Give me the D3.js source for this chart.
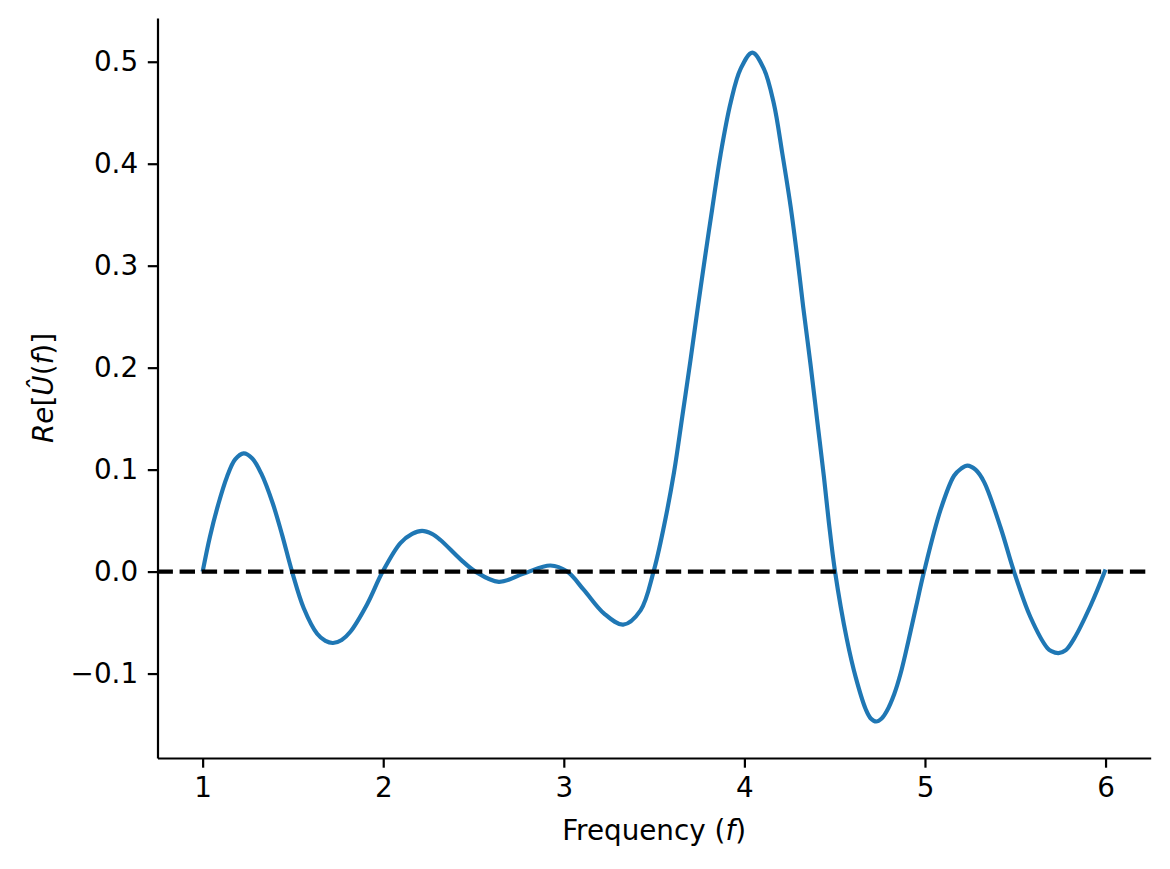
<!DOCTYPE html>
<html>
<head>
<meta charset="utf-8">
<script src="https://cdn.jsdelivr.net/npm/d3@7"></script>
<style>
  body { margin: 0; background: #fff; }
  svg { display: block; }
  text { font-family: "DejaVu Sans", sans-serif; }
</style>
</head>
<body>
<svg id="chart" width="1170" height="869"></svg>
<script>
// values (frequency, Re[U(f)])
let freqs = [
  1.000, 1.040, 1.085, 1.135, 1.180, 1.227, 1.275, 1.325, 1.388, 1.440, 1.495,
  1.560, 1.634, 1.680, 1.722, 1.770, 1.818, 1.911, 1.997,
  2.095, 2.160, 2.215, 2.270, 2.317, 2.428, 2.511, 2.640, 2.778, 2.926,
  3.019, 3.111, 3.222, 3.329, 3.425, 3.497,
  3.554, 3.610, 3.656, 3.702, 3.742, 3.785, 3.822, 3.868, 3.924, 3.979,
  4.044, 4.108, 4.163, 4.210, 4.256, 4.293, 4.326, 4.367, 4.404, 4.441,
  4.468, 4.502, 4.567, 4.617, 4.672, 4.700, 4.730, 4.760, 4.788, 4.830, 4.865, 4.907, 4.950, 4.995,
  5.087, 5.161, 5.200, 5.235, 5.280, 5.327, 5.419, 5.493,
  5.585, 5.678, 5.700, 5.739, 5.780, 5.825, 5.918, 6.000
];
let reU = [
  0.000, 0.034, 0.065, 0.093, 0.110, 0.116, 0.111, 0.096, 0.067, 0.036, 0.000,
  -0.036, -0.061, -0.068, -0.070, -0.067, -0.059, -0.032, 0.000,
  0.028, 0.037, 0.040, 0.037, 0.031, 0.012, 0.000, -0.010, -0.002, 0.006,
  0.000, -0.018, -0.041, -0.052, -0.038, 0.000,
  0.044, 0.097, 0.152, 0.208, 0.259, 0.312, 0.356, 0.409, 0.460, 0.493,
  0.509, 0.493, 0.459, 0.410, 0.358, 0.308, 0.259, 0.202, 0.147, 0.092,
  0.048, 0.000, -0.066, -0.104, -0.135, -0.144, -0.147, -0.144, -0.137, -0.120, -0.100, -0.069, -0.035, 0.000,
  0.061, 0.094, 0.101, 0.104, 0.100, 0.088, 0.043, 0.000,
  -0.045, -0.075, -0.078, -0.080, -0.077, -0.066, -0.033, 0.002
];
let xTicks = [1, 2, 3, 4, 5, 6];
let yTicks = [-0.1, 0.0, 0.1, 0.2, 0.3, 0.4, 0.5];

const fontPx = 27.8;
const tickLen = 9.7;
const plotLeft = 157.5, plotRight = 1150.7, plotTop = 18, plotBottom = 758;

let svg = d3.select("#chart");

let x = d3.scaleLinear().domain([0.75, 6.25]).range([plotLeft, plotRight]);
let y = d3.scaleLinear().domain([-0.1828, 0.5429]).range([plotBottom, plotTop]);

let points = freqs.map((f, i) => [f, reU[i]]);

// the curve
svg.append("path")
  .datum(points)
  .attr("fill", "none")
  .attr("stroke", "#1f77b4")
  .attr("stroke-width", 4.17)
  .attr("stroke-linejoin", "round")
  .attr("d", d3.line()
    .x(d => x(d[0]))
    .y(d => y(d[1]))
    .curve(d3.curveCatmullRom.alpha(0.5)));

// zero line
svg.append("line")
  .attr("x1", plotLeft).attr("x2", plotRight)
  .attr("y1", y(0)).attr("y2", y(0))
  .attr("stroke", "#000")
  .attr("stroke-width", 4.17)
  .attr("stroke-dasharray", "15.4,6.7");

// axes
let xAxis = svg.append("g")
  .attr("transform", `translate(0,${plotBottom})`)
  .call(d3.axisBottom(x).tickValues(xTicks).tickFormat(d3.format("d"))
    .tickSize(tickLen).tickSizeOuter(0).tickPadding(tickLen));

let yAxis = svg.append("g")
  .attr("transform", `translate(${plotLeft},0)`)
  .call(d3.axisLeft(y).tickValues(yTicks).tickFormat(d3.format(".1f"))
    .tickSize(tickLen).tickSizeOuter(0).tickPadding(tickLen));

[xAxis, yAxis].forEach(g => {
  g.select(".domain").attr("stroke-width", 2.2).attr("stroke", "#000");
  g.selectAll(".tick line").attr("stroke-width", 2.2).attr("stroke", "#000");
  g.selectAll(".tick text")
    .attr("fill", "#000")
    .style("font-family", "DejaVu Sans")
    .style("font-size", fontPx + "px");
});

// x label
let xl = svg.append("text")
  .attr("x", (plotLeft + plotRight) / 2)
  .attr("y", 840)
  .attr("text-anchor", "middle")
  .style("font-size", fontPx + "px");
xl.append("tspan").text("Frequency (");
xl.append("tspan").attr("font-style", "italic").text("f");
xl.append("tspan").text(")");

// y label
let yl = svg.append("text")
  .attr("transform", `translate(53,${(plotTop + plotBottom) / 2}) rotate(-90)`)
  .attr("text-anchor", "middle")
  .style("font-size", fontPx + "px");
yl.append("tspan").attr("font-style", "italic").text("Re");
yl.append("tspan").text("[");
yl.append("tspan").attr("font-style", "italic").text("Û");
yl.append("tspan").text("(");
yl.append("tspan").attr("font-style", "italic").text("f");
yl.append("tspan").text(")]");
</script>
</body>
</html>
